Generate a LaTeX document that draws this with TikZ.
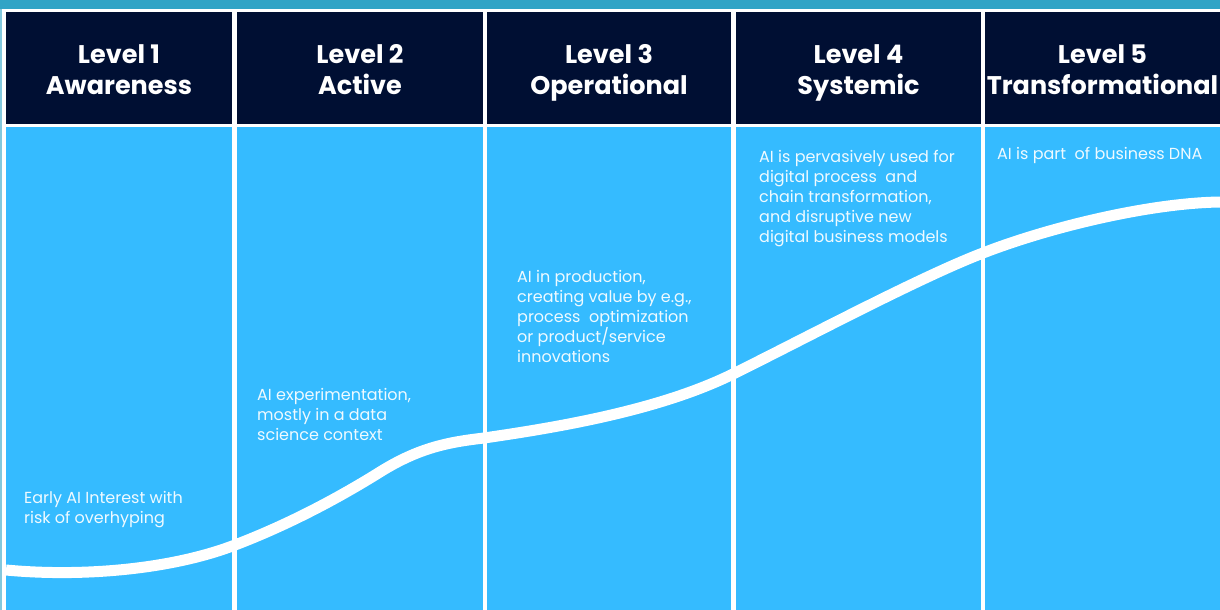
\documentclass[tikz,border=0pt]{standalone}
\usepackage{fontspec}
\setmainfont{Poppins}
\definecolor{teal}{HTML}{31A4C6}
\definecolor{navy}{HTML}{000F33}
\definecolor{sky}{HTML}{35BBFF}
\begin{document}
\begin{tikzpicture}[x=1pt,y=-1pt,
  hdr/.style={fill=navy,draw=none},
  bodyrect/.style={fill=sky,draw=none},
  htext/.style={text=white,font=\fontsize{25.5}{31}\selectfont\bfseries,align=center,inner sep=0,anchor=base},
  btext/.style={text=white!92!sky,font=\fontsize{16}{20}\selectfont,align=left,inner sep=0,anchor=base west},
  curve/.style={white,line width=11pt}]
\useasboundingbox (0,0) rectangle (1220,610);
\fill[white] (0,0) rectangle (1220,610);
\fill[teal] (0,0) rectangle (1220,9);
\fill[teal!60] (0,9) rectangle (2,610);
% columns
\foreach \a/\b/\i in {6/232/1,237/483/2,487/731/3,736/981/4,985/1220/5}{
  \fill[hdr] (\a,12) rectangle (\b,124);
  \fill[bodyrect] (\a,127) rectangle (\b,610);
  \coordinate (h\i) at ({(\a+\b)/2},94);
}
\node[htext] (t1) at (h1) {Level 1\\Awareness};
\node[htext] (t2) at (h2) {Level 2\\Active};
\node[htext] (t3) at (h3) {Level 3\\Operational};
\node[htext] (t4) at (h4) {Level 4\\Systemic};
\node[htext] (t5) at (h5) {Level 5\\Transformational};
% curve
\draw[curve] (6,570) .. controls (80,577) and (170,570) .. (235,545)
  .. controls (290,524) and (340,497) .. (380,472)
  .. controls (420,447) and (450,442) .. (484,438)
  .. controls (560,427) and (660,410) .. (733,374)
  .. controls (800,341) and (920,277) .. (983,253)
  .. controls (1050,227) and (1150,203) .. (1220,202);
% texts (anchored at the baseline of the last line)
\node[btext] (d1) at (24,523) {Early AI Interest with\\risk of overhyping};
\node[btext] (d2) at (257,440) {AI experimentation,\\mostly in a data\\science context};
\node[btext] (d3) at (517,362) {AI in production,\\creating value by e.g.,\\process\ \ optimization\\or product/service\\innovations};
\node[btext] (d4) at (759,242) {AI is pervasively used for\\digital process\ \ and\\chain transformation,\\and disruptive new\\digital business models};
\node[btext] (d5) at (997,159) {AI is part\ \ of business DNA};
\end{tikzpicture}
\end{document}
